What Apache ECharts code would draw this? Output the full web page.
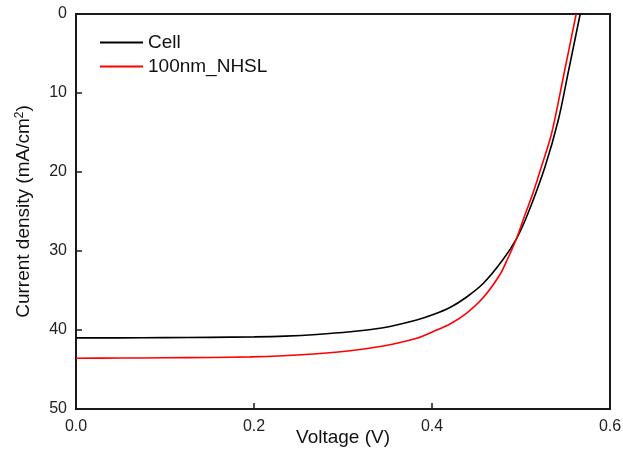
<!DOCTYPE html>
<html>
<head>
<meta charset="utf-8">
<script src="https://cdn.jsdelivr.net/npm/echarts@6/dist/echarts.min.js"></script>
<style>
html,body{margin:0;padding:0;background:#fff;}
#chart{width:623px;height:451px;}
</style>
</head>
<body>
<div id="chart"></div>
<script>
const seriesNames = ['Cell', '100nm_NHSL'];
const voltageCell = [0, 0.05, 0.10, 0.15, 0.20, 0.235, 0.2704, 0.3079, 0.3453, 0.3828, 0.4015, 0.4202, 0.439, 0.4577, 0.4794, 0.4952, 0.5079, 0.5270, 0.5419, 0.5536, 0.5665];
const jCell = [41.0, 41.0, 40.97, 40.93, 40.87, 40.77, 40.56, 40.22, 39.71, 38.73, 38.04, 37.15, 35.82, 34.09, 31.14, 28.39, 25.23, 19.33, 13.42, 7.09, 0];
const voltageNHSL = [0, 0.05, 0.10, 0.15, 0.1955, 0.2329, 0.2704, 0.3079, 0.3453, 0.3828, 0.4015, 0.4202, 0.4390, 0.4576, 0.4764, 0.4854, 0.4952, 0.5048, 0.5135, 0.5225, 0.5345, 0.5487, 0.562];
const jNHSL = [43.58, 43.55, 43.52, 43.48, 43.4, 43.25, 43.0, 42.62, 42.03, 41.05, 40.19, 39.24, 37.85, 35.89, 32.97, 30.89, 28.35, 25.32, 22.66, 19.49, 15.06, 7.34, 0];
const xRange = [0, 0.6, 0.2];
const yRange = [0, 50, 10];

const pairs = (xs, ys) => xs.map((x, i) => [x, ys[i]]);
const FONT = '"Liberation Sans", Arial, sans-serif';
const chart = echarts.init(document.getElementById('chart'), null, {renderer: 'canvas'});
chart.setOption({
  animation: false,
  backgroundColor: '#ffffff',
  grid: {left: 76, right: 13, top: 14, bottom: 42, containLabel: false, outerBoundsMode: 'none',
         show: true, borderColor: '#1a1a1a', borderWidth: 2, backgroundColor: 'transparent'},
  legend: {
    orient: 'vertical', left: 95, top: 28, itemWidth: 43, itemHeight: 2, itemGap: 5, icon: 'rect',
    data: seriesNames,
    textStyle: {fontFamily: FONT, fontSize: 19, color: '#111', lineHeight: 19}
  },
  xAxis: {
    type: 'value', position: 'bottom', min: xRange[0], max: xRange[1], interval: xRange[2],
    name: 'Voltage (V)', nameLocation: 'middle', nameGap: 19, nameMoveOverlap: false,
    nameTextStyle: {fontFamily: FONT, fontSize: 19, color: '#111'},
    axisLine: {show: true, onZero: false, lineStyle: {color: '#1a1a1a', width: 2}},
    axisTick: {show: true, inside: true, length: 6, lineStyle: {color: '#1a1a1a', width: 1.5}},
    axisLabel: {fontFamily: FONT, fontSize: 16, color: '#222', margin: 10, formatter: v => v.toFixed(1)},
    splitLine: {show: false}
  },
  yAxis: {
    type: 'value', position: 'left', inverse: true, min: yRange[0], max: yRange[1], interval: yRange[2],
    name: '{a|Current density (mA/cm}{s|2}{a|)}', nameLocation: 'middle', nameGap: 42, nameRotate: 90, nameMoveOverlap: false,
    nameTextStyle: {fontFamily: FONT, fontSize: 19, color: '#111', rich: {
      a: {fontFamily: FONT, fontSize: 19, color: '#111'},
      s: {fontFamily: FONT, fontSize: 12, color: '#111', verticalAlign: 'top', padding: [0, 0, 8, 0]}
    }},
    axisLine: {show: true, onZero: false, lineStyle: {color: '#1a1a1a', width: 2}},
    axisTick: {show: true, inside: true, length: 6, lineStyle: {color: '#1a1a1a', width: 1.5}},
    axisLabel: {fontFamily: FONT, fontSize: 16, color: '#222', margin: 9},
    splitLine: {show: false}
  },
  series: [
    {name: seriesNames[0], type: 'line', data: pairs(voltageCell, jCell), smooth: 0.3, symbol: 'none',
     lineStyle: {color: '#000000', width: 1.6}, itemStyle: {color: '#000000'}},
    {name: seriesNames[1], type: 'line', data: pairs(voltageNHSL, jNHSL), smooth: 0.3, symbol: 'none',
     lineStyle: {color: '#ff0000', width: 1.6}, itemStyle: {color: '#ff0000'}}
  ]
});
</script>
</body>
</html>
